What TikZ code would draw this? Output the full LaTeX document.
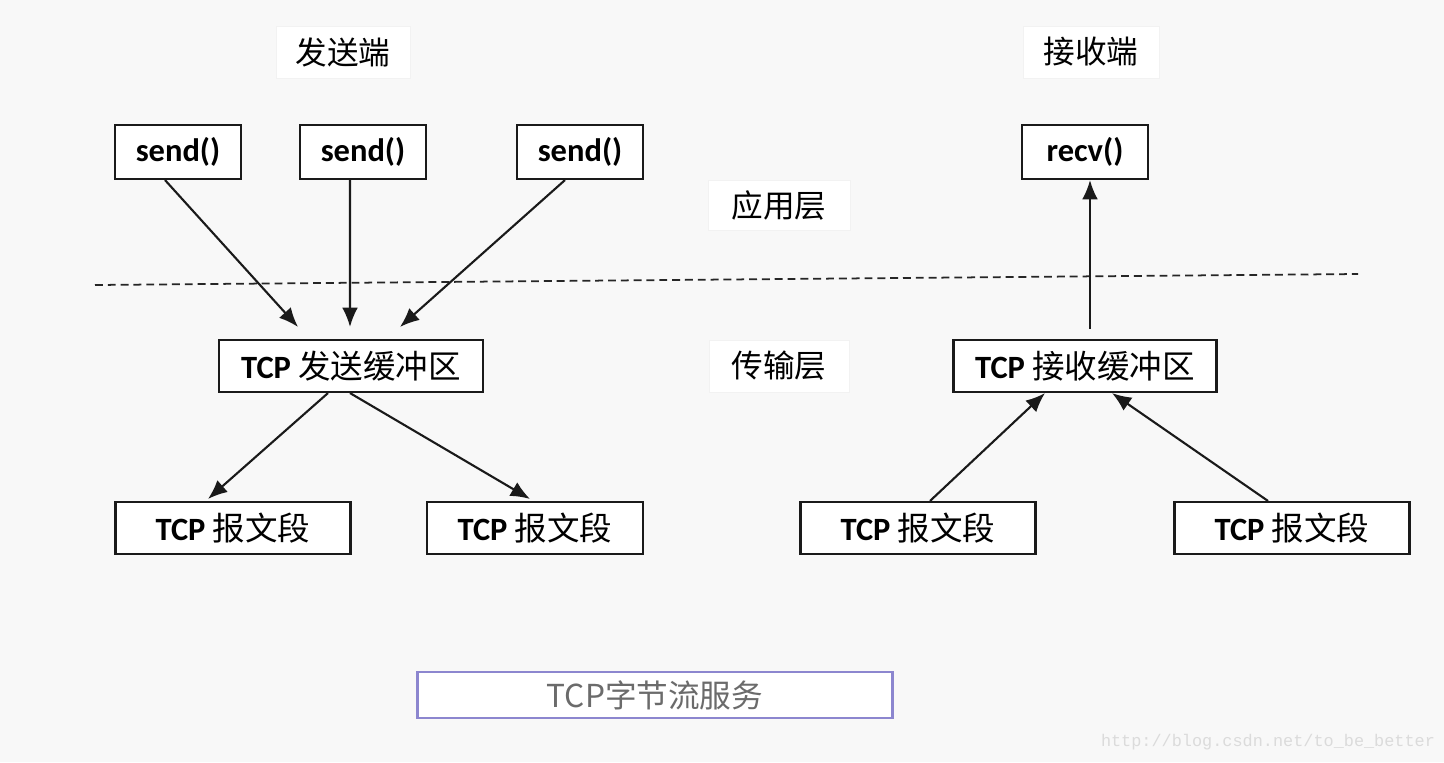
\documentclass[tikz,border=0pt]{standalone}
\usepackage{fontspec}
\setmainfont{Carlito}
\newfontfamily\cjk{Noto Sans CJK SC}
\newfontfamily\wmfont{Liberation Mono}
\usetikzlibrary{arrows.meta}
\definecolor{bgcol}{HTML}{F8F8F8}
\definecolor{boxline}{HTML}{1A1A1A}
\definecolor{svcline}{HTML}{8C86CF}
\tikzstyle{layer} = [rectangle, fill=white, draw=black!5, minimum height=1.04cm, text centered, font=\fontsize{18}{20}\selectfont\cjk]
\tikzstyle{call} = [rectangle, minimum width=2.52cm, minimum height=1.08cm, text centered, draw=boxline, line width=1.2pt, fill=white, font=\fontsize{18.5}{20}\selectfont\bfseries]
\tikzstyle{buffer} = [rectangle, minimum width=5.28cm, minimum height=1.04cm, text centered, draw=boxline, line width=1.2pt, fill=white, font=\fontsize{18.5}{20}\selectfont\bfseries]
\tikzstyle{segment} = [rectangle, minimum width=4.7cm, minimum height=1.04cm, text centered, draw=boxline, line width=1.2pt, fill=white, font=\fontsize{18.5}{20}\selectfont\bfseries]
\tikzstyle{arrow} = [line width=1.2pt, draw=boxline, -{Latex[length=11pt,width=9pt]}]

\begin{document}
\begin{tikzpicture}[x=0.02cm, y=-0.02cm]
    \fill[bgcol] (0,0) rectangle (1444,762);
    \useasboundingbox (0,0) rectangle (1444,762);

    \node (sender) [layer, minimum width=2.68cm] at (343,52) {发送端};
    \node (receiver) [layer, minimum width=2.72cm] at (1091,52) {接收端};
    \node (applayer) [layer, minimum width=2.84cm, minimum height=1cm] at (779,205) {应用层};
    \node (translayer) [layer, minimum width=2.8cm] at (779,366) {传输层};

    \node (send1) [call] at (178,152) {send()};
    \node (send2) [call] at (363,152) {send()};
    \node (send3) [call] at (580,152) {send()};
    \node (recv) [call] at (1085,152) {recv()};

    \node (sendbuf) [buffer] at (351,366) {TCP {\cjk\mdseries 发送缓冲区}};
    \node (recvbuf) [buffer, minimum width=5.26cm] at (1085,366) {TCP {\cjk\mdseries 接收缓冲区}};

    \node (seg1) [segment] at (233,528) {TCP {\cjk\mdseries 报文段}};
    \node (seg2) [segment, minimum width=4.32cm] at (535,528) {TCP {\cjk\mdseries 报文段}};
    \node (seg3) [segment] at (918,528) {TCP {\cjk\mdseries 报文段}};
    \node (seg4) [segment] at (1292,528) {TCP {\cjk\mdseries 报文段}};

    \node (service) [rectangle, minimum width=9.5cm, minimum height=0.92cm, draw=svcline, line width=1.6pt, fill=white, text=black!58, font=\fontsize{18}{20}\selectfont\cjk] at (655,695) {TCP字节流服务};
    \node (mark) [text=black!14, font=\fontsize{9.6}{11}\selectfont\wmfont] at (1268,742) {http://blog.csdn.net/to\_be\_better};

    % layer boundary
    \coordinate (dleft) at (95,285);
    \coordinate (dright) at (1358,274);
    \draw [black!85, line width=1pt, dash pattern=on 4.5pt off 2.8pt] (dleft) -- (dright);

    \draw [arrow] ([xshift=-0.26cm]send1.south) -- ([xshift=-1.06cm,yshift=0.24cm]sendbuf.north);
    \draw [arrow] ([xshift=-0.26cm]send2.south) -- ([xshift=-0.02cm,yshift=0.24cm]sendbuf.north);
    \draw [arrow] ([xshift=-0.3cm]send3.south) -- ([xshift=0.98cm,yshift=0.24cm]sendbuf.north);
    \draw [arrow] ([xshift=-0.46cm]sendbuf.south) -- ([xshift=-0.5cm,yshift=0.04cm]seg1.north);
    \draw [arrow] ([xshift=-0.02cm]sendbuf.south) -- ([xshift=-0.1cm,yshift=0.04cm]seg2.north);
    \draw [arrow] ([xshift=0.1cm,yshift=0.2cm]recvbuf.north) -- ([xshift=0.1cm]recv.south);
    \draw [arrow] ([xshift=0.24cm]seg3.north) -- ([xshift=-0.8cm]recvbuf.south);
    \draw [arrow] ([xshift=-0.48cm]seg4.north) -- ([xshift=0.54cm]recvbuf.south);

\end{tikzpicture}
\end{document}
